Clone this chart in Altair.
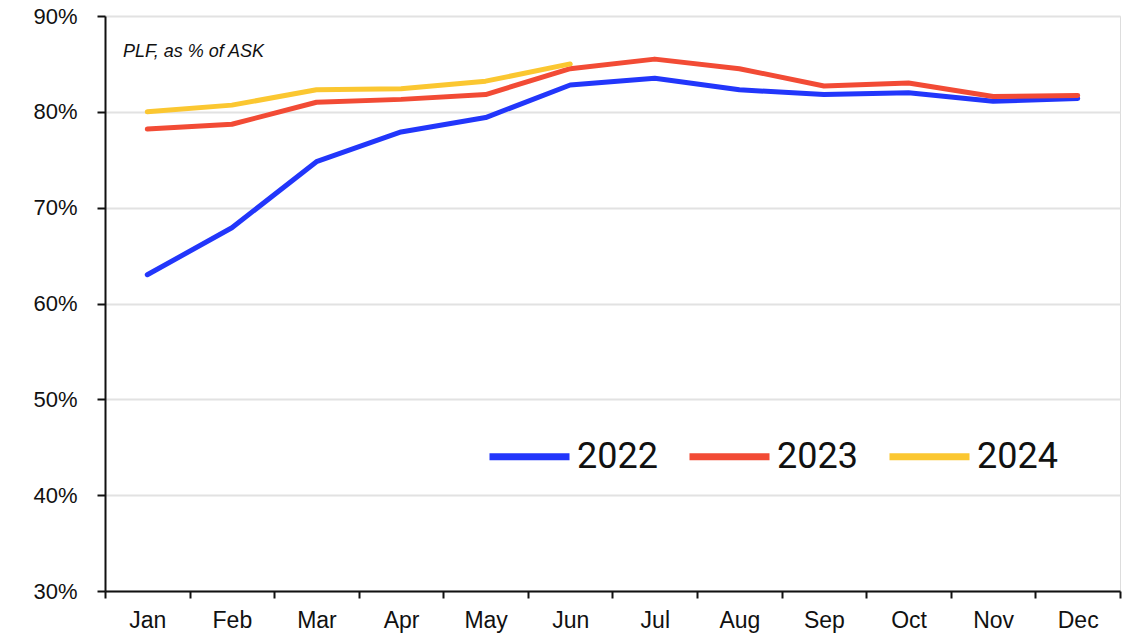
import altair as alt
import pandas as pd

months = ["Jan", "Feb", "Mar", "Apr", "May", "Jun", "Jul", "Aug", "Sep", "Oct", "Nov", "Dec"]
plf_2022 = [63.0, 67.9, 74.8, 77.9, 79.4, 82.8, 83.5, 82.3, 81.8, 82.0, 81.1, 81.4]
plf_2023 = [78.2, 78.7, 81.0, 81.3, 81.8, 84.5, 85.5, 84.5, 82.7, 83.0, 81.6, 81.7]
plf_2024 = [80.0, 80.7, 82.3, 82.4, 83.2, 85.0]
years = ["2022", "2023", "2024"]
colors = ["#2236FB", "#F24B35", "#FBC731"]

rows = []
for yr, vals in zip(years, [plf_2022, plf_2023, plf_2024]):
    for m, v in zip(months, vals):
        rows.append({"month": m, "value": v, "year": yr})
df = pd.DataFrame(rows)

base_font = "Liberation Sans"

lines = alt.Chart(df).mark_line(strokeWidth=5, strokeCap="round", strokeJoin="round").encode(
    x=alt.X("month:N", sort=months, bandPosition=0.5,
            scale=alt.Scale(type="band", paddingInner=0, paddingOuter=0),
            axis=alt.Axis(title=None, labelAngle=0, tickBand="extent", tickSize=7,
                          tickColor="#111111", tickWidth=2, domainColor="#111111",
                          domainWidth=2, labelFontSize=23, labelFont=base_font,
                          labelColor="#111111", labelPadding=11, grid=False)),
    y=alt.Y("value:Q", scale=alt.Scale(domain=[30, 90], nice=False, zero=False),
            axis=alt.Axis(title=None, values=[30, 40, 50, 60, 70, 80, 90],
                          labelExpr="datum.value + '%'", tickSize=8, tickColor="#111111",
                          tickWidth=2, domainColor="#111111", domainWidth=2,
                          labelFontSize=22, labelFont=base_font, labelColor="#111111",
                          labelPadding=20, grid=True, gridColor="#e2e2e2", gridWidth=2)),
    color=alt.Color("year:N", scale=alt.Scale(domain=years, range=colors),
                    legend=alt.Legend(title=None, orient="none", legendX=381, legendY=397,
                                      direction="horizontal", columns=3,
                                      symbolType="stroke", symbolSize=6400,
                                      symbolStrokeWidth=7, labelFontSize=36,
                                      labelFont="Roboto", labelColor="#111111",
                                      labelOffset=4, columnPadding=17,
                                      symbolOffset=0)),
    order=alt.Order("year:N"),
)

note = alt.Chart(pd.DataFrame({"t": ["PLF, as % of ASK"]})).mark_text(
    align="left", baseline="middle", fontSize=18, fontStyle="italic",
    font=base_font, color="#111111"
).encode(x=alt.value(18), y=alt.value(36), text="t:N")

chart = alt.layer(lines, note).properties(
    width=1015, height=575,
    autosize=alt.AutoSizeParams(type="none"),
    padding={"left": 105, "top": 16, "right": 13, "bottom": 46},
).configure_view(stroke=None).configure(background="white")

chart.save("out.html", embed_options={"renderer": "svg", "actions": False})
